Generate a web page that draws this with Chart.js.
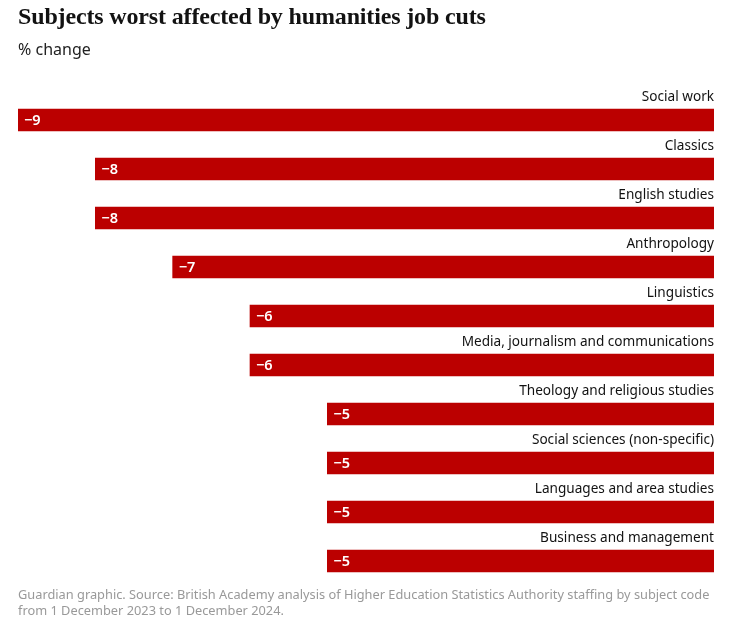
<!DOCTYPE html>
<html>
<head>
<meta charset="utf-8">
<script src="https://cdn.jsdelivr.net/npm/chart.js@4"></script>
<style>
  body { margin: 0; background: #fff; }
  #wrap { position: relative; width: 746px; height: 626px; }
  canvas { position: absolute; left: 0; top: 0; }
  .title { position: absolute; left: 18px; top: 3px; font-family: "Liberation Serif", serif; font-weight: bold; font-size: 24px; color: #121212; letter-spacing: -0.15px; }
  .sub { position: absolute; left: 18px; top: 38px; font-family: "Noto Sans", sans-serif; font-size: 16px; color: #222; }
  .foot { position: absolute; left: 18px; top: 586px; width: 700px; font-family: "Noto Sans", sans-serif; font-size: 12.8px; line-height: 16px; color: #999; }
</style>
</head>
<body>
<div id="wrap">
  <canvas id="chart" width="746" height="626"></canvas>
  <div class="title">Subjects worst affected by humanities job cuts</div>
  <div class="sub">% change</div>
  <div class="foot">Guardian graphic. Source: British Academy analysis of Higher Education Statistics Authority staffing by subject code from 1 December 2023 to 1 December 2024.</div>
</div>
<script>
const subjects = [
  "Social work",
  "Classics",
  "English studies",
  "Anthropology",
  "Linguistics",
  "Media, journalism and communications",
  "Theology and religious studies",
  "Social sciences (non-specific)",
  "Languages and area studies",
  "Business and management"
]
const changes = [-9, -8, -8, -7, -6, -6, -5, -5, -5, -5]

const labelFont = '13.6px "Noto Sans", sans-serif'

// subject names above each bar, value inside its left end
const barLabels = {
  id: "barLabels",
  afterDatasetsDraw(chart) {
    const ctx = chart.ctx
    const meta = chart.getDatasetMeta(0)
    ctx.save()
    meta.data.forEach((bar, i) => {
      const top = bar.y - bar.height / 2
      const left = Math.min(bar.x, bar.base)
      const right = Math.max(bar.x, bar.base)
      ctx.font = labelFont
      ctx.fillStyle = "#121212"
      ctx.textAlign = "right"
      ctx.textBaseline = "alphabetic"
      ctx.fillText(subjects[i], right, top - 8)
      ctx.font = '600 14.5px "Noto Sans", sans-serif'
      ctx.fillStyle = "#fff"
      ctx.textAlign = "left"
      ctx.textBaseline = "middle"
      ctx.fillText(String(changes[i]).replace("-", "\u2212"), left + 6, bar.y + 1)
    })
    ctx.restore()
  }
}

new Chart(document.getElementById("chart"), {
  type: "bar",
  data: {
    labels: subjects,
    datasets: [{
      data: changes,
      backgroundColor: "#bb0000",
      barThickness: 22,
      borderWidth: 0
    }]
  },
  options: {
    indexAxis: "y",
    responsive: false,
    animation: false,
    layout: { padding: { left: 18, right: 32, top: 95.5, bottom: 40.5 } },
    scales: {
      x: { min: -9, max: 0, display: false },
      y: { display: false }
    },
    plugins: {
      legend: { display: false },
      tooltip: { enabled: false }
    }
  },
  plugins: [barLabels]
})
</script>
</body>
</html>
